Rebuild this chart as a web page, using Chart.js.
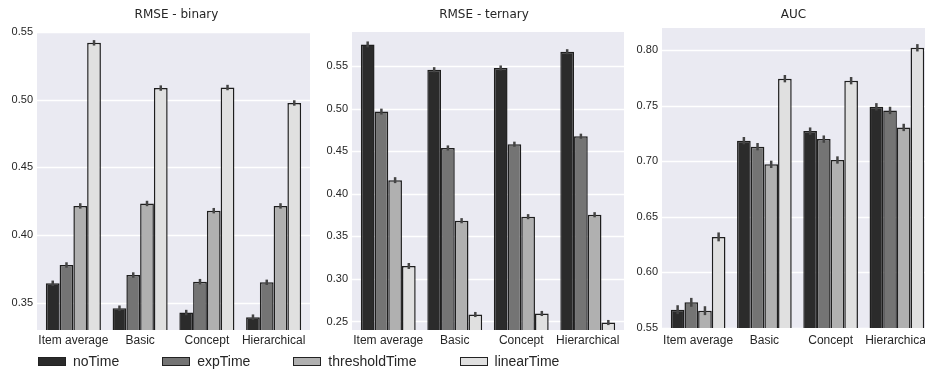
<!DOCTYPE html>
<html>
<head>
<meta charset="utf-8">
<script src="https://cdn.jsdelivr.net/npm/chart.js@4.4.1/dist/chart.umd.min.js"></script>
<style>
html, body { margin: 0; padding: 0; background: #fff; overflow: hidden; }
#wrap { position: relative; width: 925px; height: 372px; overflow: hidden; }
#wrap canvas { position: absolute; top: 0; }
#legend { position: absolute; left: 38px; top: 353px; display: flex; align-items: center;
  font-family: 'Liberation Sans', Arial, sans-serif; font-size: 14px; color: #262626; }
.item { display: flex; align-items: center; margin-right: 43px; }
.swatch { width: 26px; height: 7px; border: 1px solid #222; margin-right: 7px; }
</style>
</head>
<body>
<div id="wrap">
  <canvas id="binary" width="312" height="372" style="left:0px"></canvas>
  <canvas id="ternary" width="314" height="372" style="left:312px"></canvas>
  <canvas id="auc" width="310" height="372" style="left:626px"></canvas>
  <div id="legend"></div>
</div>
<script>
const categories = ['Item average', 'Basic', 'Concept', 'Hierarchical'];
const seriesNames = ['noTime', 'expTime', 'thresholdTime', 'linearTime'];
const seriesColors = ['#2b2b2b', '#747474', '#b0b0b0', '#e0e0e0'];

// RMSE - binary
const binaryNoTime = [0.3645, 0.3461, 0.3429, 0.3395];
const binaryExpTime = [0.3780, 0.3706, 0.3657, 0.3652];
const binaryThreshold = [0.4216, 0.4234, 0.4181, 0.4216];
const binaryLinear = [0.5420, 0.5086, 0.5090, 0.4976];
const binaryErr = [0.002, 0.002, 0.002, 0.002];
const binaryTicks = [0.35, 0.40, 0.45, 0.50, 0.55];

// RMSE - ternary
const ternaryNoTime = [0.5754, 0.5457, 0.5477, 0.5668];
const ternaryExpTime = [0.4965, 0.4538, 0.4582, 0.4676];
const ternaryThreshold = [0.4160, 0.3684, 0.3731, 0.3754];
const ternaryLinear = [0.3152, 0.2582, 0.2594, 0.2488];
const ternaryErr = [0.0035, 0.003, 0.003, 0.003];
const ternaryTicks = [0.25, 0.30, 0.35, 0.40, 0.45, 0.50, 0.55];

// AUC
const aucNoTime = [0.5665, 0.7186, 0.7272, 0.7491];
const aucExpTime = [0.5731, 0.7132, 0.7200, 0.7458];
const aucThreshold = [0.5656, 0.6973, 0.7012, 0.7305];
const aucLinear = [0.6320, 0.7744, 0.7726, 0.8022];
const aucErr = [0.004, 0.0033, 0.0033, 0.0033];
const aucTicks = [0.55, 0.60, 0.65, 0.70, 0.75, 0.80];

const tickFont = { family: "'Liberation Sans', Arial, sans-serif", size: 11 };
const catFont = { family: "'Liberation Sans', Arial, sans-serif", size: 12 };

// seaborn-like grey panel with white grid lines, a little wider than the bar area
const panelBackground = {
    id: 'panelBackground',
    beforeDraw(chart) {
        const { ctx, chartArea: a, scales } = chart;
        ctx.save();
        ctx.fillStyle = '#eaeaf2';
        ctx.fillRect(a.left - 3, a.top, a.right - a.left + 6, a.bottom - a.top);
        ctx.strokeStyle = '#ffffff';
        ctx.lineWidth = 1.3;
        scales.y.ticks.forEach(t => {
            const y = Math.round(scales.y.getPixelForValue(t.value)) + 0.5;
            ctx.beginPath();
            ctx.moveTo(a.left - 3, y);
            ctx.lineTo(a.right + 3, y);
            ctx.stroke();
        });
        ctx.restore();
    }
};

const errorBars = {
    id: 'errorBars',
    afterDatasetsDraw(chart) {
        const { ctx, scales } = chart;
        ctx.save();
        ctx.strokeStyle = '#444444';
        ctx.lineWidth = 2.5;
        chart.data.datasets.forEach((ds, i) => {
            chart.getDatasetMeta(i).data.forEach((bar, j) => {
                const v = ds.data[j], e = ds.errors[j];
                ctx.beginPath();
                ctx.moveTo(bar.x, scales.y.getPixelForValue(v - e));
                ctx.lineTo(bar.x, scales.y.getPixelForValue(v + e));
                ctx.stroke();
            });
        });
        ctx.restore();
    }
};

const panelTitle = {
    id: 'panelTitle',
    afterDraw(chart, args, opts) {
        const { ctx, chartArea: a } = chart;
        ctx.save();
        ctx.font = "12px 'DejaVu Sans', sans-serif";
        ctx.fillStyle = '#262626';
        ctx.textAlign = 'center';
        ctx.textBaseline = 'middle';
        ctx.fillText(opts.text, (a.left + a.right) / 2 + (opts.dx || 0), 15);
        ctx.restore();
    }
};

function makePanel(id, title, series, errs, ticks, min, max, layout) {
    const datasets = series.map((vals, i) => ({
        label: seriesNames[i],
        data: vals,
        errors: errs,
        backgroundColor: seriesColors[i],
        borderColor: '#1e1e1e',
        borderWidth: 1.5,
        borderSkipped: 'bottom',
        categoryPercentage: 0.825,
        barPercentage: 1.0
    }));
    return new Chart(document.getElementById(id), {
        type: 'bar',
        data: { labels: categories, datasets: datasets },
        plugins: [panelBackground, errorBars, panelTitle],
        options: {
            responsive: false,
            animation: false,
            devicePixelRatio: 1,
            layout: { padding: { top: layout.top, right: layout.right, bottom: 0, left: 0 } },
            plugins: {
                legend: { display: false },
                tooltip: { enabled: false },
                panelTitle: { text: title, dx: layout.dx }
            },
            scales: {
                x: {
                    grid: { display: false, drawTicks: false },
                    border: { display: false },
                    ticks: { font: catFont, color: '#262626', padding: layout.xPad, maxRotation: 0, autoSkip: false },
                    afterFit(scale) { scale.height = layout.xHeight; }
                },
                y: {
                    min: min,
                    max: max,
                    grid: { display: false, drawTicks: false },
                    border: { display: false },
                    afterBuildTicks(axis) { axis.ticks = ticks.map(v => ({ value: v })); },
                    ticks: {
                        font: tickFont,
                        color: '#262626',
                        padding: 7,
                        callback: v => Number(v).toFixed(2)
                    },
                    afterFit(scale) { scale.width = layout.yWidth; }
                }
            }
        }
    });
}

function drawAll() {
    makePanel('binary', 'RMSE - binary',
        [binaryNoTime, binaryExpTime, binaryThreshold, binaryLinear], binaryErr, binaryTicks, 0.33, 0.55,
        { top: 32, right: 5, yWidth: 40, xHeight: 42, xPad: 3, dx: 3 });

    makePanel('ternary', 'RMSE - ternary',
        [ternaryNoTime, ternaryExpTime, ternaryThreshold, ternaryLinear], ternaryErr, ternaryTicks, 0.24, 0.59,
        { top: 32, right: 5, yWidth: 43, xHeight: 42, xPad: 3, dx: -4 });

    makePanel('auc', 'AUC',
        [aucNoTime, aucExpTime, aucThreshold, aucLinear], aucErr, aucTicks, 0.55, 0.82,
        { top: 28, right: 6, yWidth: 39, xHeight: 44, xPad: 5, dx: -4 });
}

// shared legend under the panels
const legend = document.getElementById('legend');
seriesNames.forEach((name, i) => {
    const item = document.createElement('div');
    item.className = 'item';
    const sw = document.createElement('div');
    sw.className = 'swatch';
    sw.style.background = seriesColors[i];
    const label = document.createElement('span');
    label.textContent = name;
    item.appendChild(sw);
    item.appendChild(label);
    legend.appendChild(item);
});

// make sure the canvas text uses the installed fonts, not a fallback
Promise.all([
    document.fonts.load("11px 'Liberation Sans'"),
    document.fonts.load("12px 'Liberation Sans'"),
    document.fonts.load("12px 'DejaVu Sans'")
]).then(drawAll, drawAll);
</script>
</body>
</html>
